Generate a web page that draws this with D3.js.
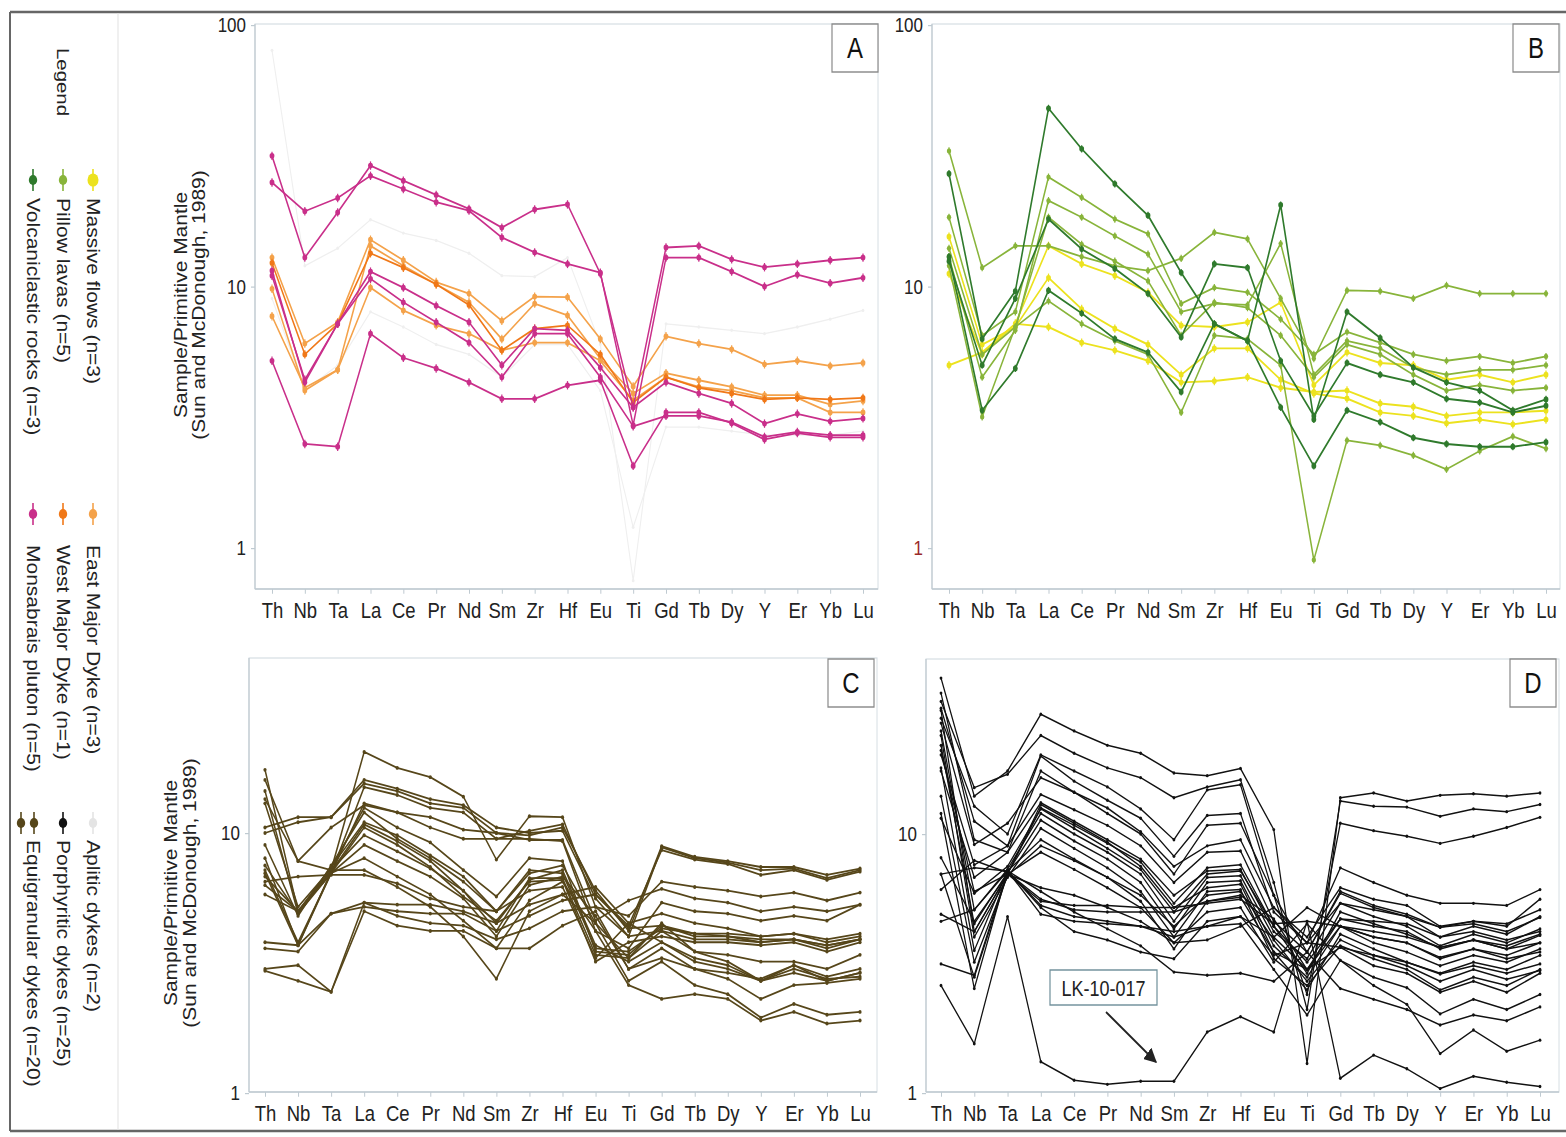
<!DOCTYPE html>
<html><head><meta charset="utf-8">
<script src="https://cdn.jsdelivr.net/npm/d3@7"></script>
<style>body{margin:0;background:#fff} svg{display:block;font-family:"Liberation Sans",Arial,sans-serif}</style>
</head><body>
<script>
// ---------------- DATA ----------------
const elements = ["Th","Nb","Ta","La","Ce","Pr","Nd","Sm","Zr","Hf","Eu","Ti","Gd","Tb","Dy","Y","Er","Yb","Lu"];
const ticksAB = [1, 10, 100];
const ticksCD = [1, 10];
const yTitle1 = "Sample/Primitive Mantle";
const yTitle2 = "(Sun and McDonough, 1989)";
const panelLetters = ["A", "B", "C", "D"];

// Panel A
const apliticDykes = [
  [80, 12, 14, 18, 16, 15, 13.4, 11, 10.9, 12.9, 6, 0.75, 7.2, 7.0, 6.8, 6.6, 7.0, 7.5, 8.1],
  [9, 4, 5, 8, 7, 6, 5.5, 4.5, 6, 6, 4, 1.2, 2.9, 2.9, 2.8, 2.7, 2.7, 2.7, 2.8]
];
const eastMajorDyke = [
  [12.9, 6.05, 7.3, 15.1, 12.6, 10.4, 9.4, 7.4, 9.15, 9.1, 6.3, 4.15, 6.45, 6.05, 5.75, 5.04, 5.2, 4.97, 5.1],
  [9.8, 4.0, 4.8, 9.9, 8.1, 7.1, 6.6, 5.7, 6.1, 6.1, 5.2, 3.67, 4.5, 4.13, 4.0, 3.75, 3.75, 3.3, 3.3],
  [7.7, 4.1, 4.8, 14.3, 12.0, 10.2, 8.7, 6.3, 8.6, 7.75, 5.3, 3.9, 4.66, 4.38, 4.13, 3.84, 3.84, 3.54, 3.65]
];
const westMajorDyke = [
  [12.3, 5.5, 7.2, 13.4, 11.8, 10.2, 8.5, 5.7, 6.9, 7.1, 5.5, 3.6, 4.5, 4.1, 3.9, 3.7, 3.75, 3.7, 3.75]
];
const monsabraisPluton = [
  [31.6, 12.9, 19.2, 29, 25.4, 22.4, 19.8, 16.8, 19.7, 20.6, 11.2, 3.45, 14.1, 14.3, 12.7, 11.85, 12.2, 12.6, 12.9],
  [25, 19.4, 21.8, 26.5, 23.6, 21, 19.5, 15.4, 13.5, 12.2, 11.3, 2.95, 12.9, 12.9, 11.4, 10, 11.1, 10.3, 10.8],
  [11, 4.4, 7.2, 11.4, 9.9, 8.45, 7.3, 5.0, 6.9, 6.8, 4.9, 3.45, 4.3, 3.9, 3.57, 2.99, 3.26, 3.05, 3.13],
  [11.5, 4.3, 7.2, 10.7, 8.7, 7.3, 6.1, 4.5, 6.6, 6.6, 4.5, 2.92, 3.2, 3.2, 3.03, 2.66, 2.78, 2.7, 2.7],
  [5.2, 2.5, 2.44, 6.6, 5.34, 4.86, 4.3, 3.72, 3.72, 4.19, 4.38, 2.06, 3.3, 3.3, 3.0, 2.6, 2.75, 2.65, 2.65]
];

// Panel B
const massiveFlows = [
  [5.0, 5.6, 7.2, 7.0, 6.1, 5.7, 5.2, 4.3, 4.35, 4.5, 4.1, 3.95, 4.0, 3.57, 3.47, 3.2, 3.3, 3.3, 3.35],
  [15.5, 6.0, 7.0, 10.8, 8.2, 6.9, 6.0, 4.6, 5.8, 5.8, 4.4, 3.9, 3.73, 3.3, 3.2, 3.0, 3.1, 2.97, 3.1],
  [11.2, 5.5, 7.2, 14.3, 12.2, 11.0, 9.5, 7.1, 7.0, 7.3, 8.7, 4.2, 5.6, 5.1, 5.0, 4.4, 4.6, 4.3, 4.6]
];
const pillowLavas = [
  [33, 11.8, 14.3, 14.3, 13, 12, 11.5, 12.8, 16.1, 15.2, 9.0, 5.3, 9.66, 9.6, 9.0, 10.1, 9.4, 9.4, 9.4],
  [18.4, 6.5, 8.0, 26.2, 21.9, 18.1, 15.9, 8.6, 9.9, 9.5, 7.5, 5.5, 6.7, 6.1, 5.5, 5.2, 5.4, 5.1, 5.4],
  [13.0, 4.5, 6.8, 21.3, 18.4, 15.6, 13.3, 8.0, 8.6, 8.5, 14.6, 4.6, 6.2, 5.8, 4.9, 4.6, 4.8, 4.8, 5.0],
  [12.0, 3.17, 7.0, 8.8, 7.2, 6.2, 5.5, 3.3, 6.5, 6.3, 5.0, 0.9, 2.58, 2.47, 2.26, 2.0, 2.35, 2.67, 2.4],
  [14.0, 5.5, 7.0, 18.4, 14.5, 12.5, 10.5, 6.5, 8.7, 8.3, 6.5, 4.5, 6.0, 5.5, 4.6, 4.0, 4.2, 4.0, 4.1]
];
const volcaniclasticRocks = [
  [27, 6.3, 9.6, 48, 33.6, 24.7, 18.7, 11.3, 7.2, 6.2, 20.5, 3.1, 8.0, 6.36, 4.9, 4.3, 4.0, 3.36, 3.7],
  [12.5, 5.0, 9.0, 18.1, 13.9, 11.7, 9.4, 6.4, 12.2, 11.8, 5.2, 3.2, 5.1, 4.6, 4.3, 3.72, 3.6, 3.3, 3.5],
  [13.0, 3.36, 4.86, 9.66, 7.9, 6.3, 5.6, 3.95, 7.2, 6.2, 3.45, 2.06, 3.36, 3.03, 2.64, 2.5, 2.44, 2.44, 2.54]
];

// Panel C
const equigranularDykes = [
  [10.5, 11.5, 11.5, 15.5, 14.5, 13, 12.5, 10, 9.8, 10.5, 6.0, 4.2, 8.9, 8.1, 7.8, 7.4, 7.4, 6.9, 7.3],
  [10, 11, 11.5, 16, 14.8, 13.5, 12.8, 10.5, 10, 10.2, 5.6, 4.0, 8.8, 8.0, 7.7, 7.2, 7.3, 6.7, 7.2],
  [17.5, 5.0, 7.0, 15.0, 14.0, 12.5, 12.0, 9.5, 10.2, 10.8, 5.8, 4.4, 8.6, 7.9, 7.6, 6.9, 7.2, 6.6, 7.1],
  [16, 7.8, 7.2, 20.5, 17.8, 16.4, 13.8, 7.9, 11.6, 11.5, 5.2, 4.8, 6.5, 6.2, 6.0, 5.7, 5.9, 5.5, 5.9],
  [14.5, 4.9, 7.0, 13.0, 12.0, 10.5, 9.5, 9.5, 9.5, 9.3, 4.2, 3.6, 5.4, 5.0, 4.9, 4.6, 4.8, 4.6, 5.3],
  [13, 5.2, 7.3, 12.5, 10.5, 9.2, 7.2, 5.7, 8.0, 7.8, 3.5, 3.4, 4.4, 4.0, 4.0, 3.8, 3.9, 3.7, 3.9],
  [8, 3.7, 7.1, 10.8, 9.3, 7.8, 6.0, 4.2, 6.7, 6.7, 3.4, 3.3, 4.2, 3.9, 3.9, 3.8, 3.9, 3.6, 3.9],
  [7.2, 3.8, 7.0, 10.5, 9.0, 7.4, 5.7, 4.6, 6.5, 6.6, 3.2, 3.8, 4.0, 3.8, 3.8, 3.7, 3.8, 3.5, 3.8],
  [9, 4.8, 7.5, 12.0, 9.5, 8.0, 6.5, 5.0, 7.2, 7.0, 3.6, 3.5, 4.3, 4.1, 4.1, 4.0, 4.1, 3.9, 4.1],
  [6.3, 5.0, 7.4, 11.0, 9.8, 8.2, 6.8, 5.0, 7.0, 7.5, 4.5, 3.3, 4.5, 3.5, 3.2, 2.7, 2.9, 2.7, 2.9],
  [7.5, 4.9, 7.2, 9.8, 8.5, 7.3, 6.0, 4.5, 6.6, 7.2, 3.7, 3.2, 3.8, 3.3, 3.1, 2.7, 3.0, 2.75, 2.8],
  [5.8, 5.0, 7.0, 9.0, 7.8, 6.8, 5.6, 4.0, 6.3, 6.8, 4.8, 3.0, 3.3, 3.0, 2.75, 2.3, 2.6, 2.65, 2.75],
  [6.8, 5.0, 7.2, 7.2, 6.2, 5.2, 4.0, 2.75, 5.0, 5.8, 4.5, 2.7, 3.2, 2.6, 2.4, 1.95, 2.2, 2.0, 2.05],
  [7.0, 3.7, 7.0, 8.0, 6.8, 5.8, 4.6, 3.6, 5.5, 6.5, 4.2, 2.6, 2.3, 2.4, 2.3, 1.9, 2.05, 1.85, 1.9],
  [3.8, 3.7, 4.9, 5.4, 5.3, 5.3, 5.0, 4.5, 5.3, 5.8, 6.2, 4.5, 4.9, 4.5, 4.3, 4.0, 4.1, 3.8, 4.0],
  [3.6, 3.5, 4.9, 5.2, 5.0, 4.9, 4.9, 4.2, 4.8, 5.5, 5.8, 4.3, 4.4, 4.1, 4.0, 3.9, 3.9, 3.7, 3.9],
  [3.0, 3.1, 2.45, 5.4, 4.8, 4.5, 4.4, 3.9, 4.3, 5.0, 5.2, 4.0, 4.2, 3.5, 3.4, 3.2, 3.2, 3.0, 3.4],
  [2.95, 2.7, 2.45, 5.0, 4.4, 4.2, 4.2, 3.6, 3.6, 4.4, 5.0, 3.0, 3.6, 3.0, 2.9, 2.75, 3.1, 2.8, 3.0],
  [13.5, 7.8, 10.5, 12.8, 12, 11.5, 10.3, 10.0, 9.4, 9.4, 4.6, 5.5, 6.1, 5.6, 5.4, 5.0, 5.2, 5.0, 5.3],
  [6.5, 6.8, 6.9, 6.9, 6.4, 5.6, 5.2, 5.0, 6.0, 6.2, 3.3, 4.5, 3.8, 3.2, 3.0, 2.7, 3.1, 2.7, 2.9]
];

// Panel D
const porphyriticDykes = [
  [40, 14, 17.5, 29, 25, 22, 20.5, 17.2, 16.8, 17.9, 10.4, 1.3, 13.8, 14.4, 13.4, 14.1, 14.3, 14.0, 14.4],
  [32.5, 15.1, 17, 24, 20.5, 18, 16.5, 13.8, 15.2, 16.2, 6.5, 2.1, 13.4, 12.8, 12.7, 11.7, 12.5, 12.2, 13.0],
  [28, 12.8, 10, 20.2, 17.5, 15.2, 12.5, 9.5, 14.8, 15.5, 5.8, 2.4, 11.0, 10.3, 9.8, 9.2, 9.8, 10.6, 11.6],
  [30.6, 11.2, 9, 20, 16, 13.5, 11.5, 8.2, 11.8, 12.0, 5.0, 3.8, 7.4, 6.5, 5.8, 5.4, 5.4, 5.3, 6.1],
  [26.8, 9.1, 11, 16.5, 14.5, 12.6, 10.2, 7.5, 9.0, 9.5, 5.2, 4.0, 6.2, 5.6, 5.3, 4.4, 4.6, 4.4, 5.6],
  [20.2, 7.6, 9, 14.2, 12.4, 10.8, 9.0, 6.5, 8.5, 8.6, 4.6, 3.5, 5.9, 5.2, 4.8, 4.0, 4.4, 4.1, 4.8],
  [17.5, 6.8, 8.5, 13.2, 11.2, 9.5, 8.0, 5.8, 7.2, 7.3, 4.2, 3.3, 5.4, 4.8, 4.4, 3.7, 4.1, 3.8, 4.3],
  [11.5, 5.9, 7.5, 12.5, 10.5, 8.8, 7.3, 5.0, 7.0, 7.2, 4.4, 3.2, 4.7, 4.4, 4.2, 3.6, 3.9, 3.7, 4.1],
  [25, 5.1, 7.3, 12, 10, 8.5, 7.0, 4.6, 6.8, 6.9, 4.0, 3.0, 4.4, 4.0, 3.8, 3.3, 3.6, 3.4, 3.8],
  [22, 4.5, 7.1, 11.3, 9.4, 8.0, 6.5, 4.3, 6.5, 6.6, 3.7, 2.8, 4.4, 3.8, 3.5, 3.1, 3.4, 3.2, 3.6],
  [30, 4.2, 7.0, 13.0, 11.0, 9.3, 7.5, 5.2, 6.2, 6.4, 3.5, 2.5, 4.1, 3.6, 3.2, 2.9, 3.2, 3.0, 3.4],
  [24, 4.0, 6.8, 10.5, 8.8, 7.4, 6.0, 4.0, 6.0, 6.1, 3.3, 2.6, 3.7, 3.3, 3.0, 2.5, 2.8, 2.6, 3.0],
  [18, 3.55, 7.2, 9.5, 8.0, 6.8, 5.5, 3.6, 5.5, 5.7, 3.5, 3.0, 3.65, 3.1, 2.9, 2.45, 2.7, 2.45, 2.9],
  [8.1, 4.6, 7.0, 8.5, 7.3, 6.2, 5.2, 3.8, 5.0, 5.2, 3.2, 4.5, 3.25, 2.8, 2.55, 2.02, 2.3, 2.1, 2.4],
  [7.0, 7.4, 7.2, 5.3, 4.8, 4.6, 4.4, 4.2, 4.4, 4.8, 3.4, 3.8, 5.4, 5.1, 4.8, 4.36, 4.6, 4.5, 5.1],
  [6.1, 7.9, 7.1, 5.6, 5.1, 5.0, 5.0, 5.0, 5.5, 5.8, 4.7, 3.0, 4.7, 4.6, 4.5, 4.0, 4.2, 3.9, 4.2],
  [4.9, 4.2, 7.0, 5.5, 5.3, 5.3, 5.2, 5.2, 5.4, 5.6, 4.5, 4.6, 4.4, 4.2, 4.0, 3.65, 3.9, 3.6, 3.8],
  [4.6, 5.1, 7.2, 5.2, 4.2, 3.9, 3.5, 3.3, 4.6, 4.8, 4.0, 5.2, 4.4, 4.0, 3.8, 3.34, 3.6, 3.3, 3.5],
  [7.0, 2.8, 7.0, 6.2, 5.8, 5.2, 4.6, 3.8, 3.9, 4.4, 5.2, 3.8, 3.65, 3.4, 3.2, 2.88, 3.1, 2.9, 3.15],
  [3.15, 2.85, 7.2, 6.0, 5.0, 4.3, 3.7, 2.93, 2.85, 2.9, 2.7, 3.5, 2.53, 2.3, 2.1, 1.83, 2.0, 1.9, 2.15],
  [2.6, 1.55, 4.8, 1.32, 1.12, 1.08, 1.11, 1.11, 1.72, 1.97, 1.72, 4.6, 1.14, 1.4, 1.24, 1.04, 1.16, 1.1, 1.06],
  [12, 2.53, 7.2, 4.9, 4.6, 4.5, 4.4, 4.0, 4.4, 4.5, 3.0, 2.0, 3.25, 2.6, 2.2, 1.42, 1.75, 1.45, 1.6],
  [35, 9.5, 8.5, 17.5, 14.5, 12.0, 10.0, 7.0, 10.8, 11.0, 5.8, 3.5, 6.0, 5.3, 4.9, 4.36, 4.5, 4.2, 4.76],
  [21, 6.0, 7.0, 12.6, 10.8, 9.2, 7.8, 5.4, 7.4, 7.6, 4.4, 2.9, 5.0, 4.5, 4.1, 3.65, 3.9, 3.6, 4.06],
  [14, 3.2, 6.9, 9.0, 7.9, 6.8, 5.8, 4.4, 5.8, 6.0, 3.9, 2.7, 3.9, 3.4, 3.1, 2.7, 3.0, 2.75, 2.97]
];
const annotationLabel = "LK-10-017";

const legendTitle = "Legend";
const legendLabels = [
  ["Massive flows (n=3)", "Pillow lavas (n=5)", "Volcaniclastic rocks (n=3)"],
  ["East Major Dyke (n=3)", "West Major Dyke (n=1)", "Monsabrais pluton (n=5)"],
  ["Aplitic dykes (n=2)", "Porphyritic dykes (n=25)", "Equigranular dykes (n=20)"]
];

// ---------------- STYLE ----------------
const C = {
  massive: "#ece21e", pillow: "#88b43a", volc: "#2f7a2c",
  east: "#f4a24a", west: "#f07818", mons: "#c92f8a",
  aplitic: "#efefef", porph: "#111111", equi: "#56461a"
};
const legendColors = [
  [C.massive, C.pillow, C.volc],
  [C.east, C.west, C.mons],
  ["#e4e4e4", C.porph, C.equi]
];

const SY = 1.2;             // vertical stretch of the reference figure
const fy = v => v / SY;      // final pixel -> inner coordinate
const W = 1566, H = 1137;

const svg = d3.select("body").append("svg").attr("width", W).attr("height", H);
svg.append("rect").attr("width", W).attr("height", H).attr("fill", "#fff");
const root = svg.append("g").attr("transform", `scale(1,${SY})`);

// outer frame
root.append("line").attr("x1", 10).attr("x2", W).attr("y1", fy(12)).attr("y2", fy(12)).attr("stroke", "#666").attr("stroke-width", 2);
root.append("line").attr("x1", 10).attr("x2", 10).attr("y1", fy(12)).attr("y2", fy(1131)).attr("stroke", "#666").attr("stroke-width", 2);
root.append("line").attr("x1", 10).attr("x2", W).attr("y1", fy(1131)).attr("y2", fy(1131)).attr("stroke", "#666").attr("stroke-width", 2);
root.append("line").attr("x1", 118).attr("x2", 118).attr("y1", fy(13)).attr("y2", fy(1130)).attr("stroke", "#e2e2e2").attr("stroke-width", 1);

// ---------------- PANELS ----------------
const panels = [
  { letter: panelLetters[0], left: 255, right: 878, top: 24, bottom: 589, xr: [272, 863], yv: [1, 100], ypx: [548, 25], ticks: ticksAB,
    title: { x: [181, 199], cy: 305 }, box: [832, 24],
    series: [
      { data: apliticDykes, color: C.aplitic, w: 1.1, r: 1.4, tick: 0 },
      { data: eastMajorDyke, color: C.east, w: 1.5, r: 2.4, tick: 3.5 },
      { data: westMajorDyke, color: C.west, w: 1.5, r: 2.4, tick: 3.5 },
      { data: monsabraisPluton, color: C.mons, w: 1.5, r: 2.4, tick: 3.5 }
    ] },
  { letter: panelLetters[1], left: 932, right: 1560, top: 24, bottom: 589, xr: [949, 1546], yv: [1, 100], ypx: [548, 25], ticks: ticksAB,
    title: null, box: [1513, 24], redOne: true,
    series: [
      { data: massiveFlows, color: C.massive, w: 1.6, r: 2.4, tick: 3.5 },
      { data: pillowLavas, color: C.pillow, w: 1.5, r: 2.2, tick: 3 },
      { data: volcaniclasticRocks, color: C.volc, w: 1.6, r: 2.4, tick: 3 }
    ] },
  { letter: panelLetters[2], left: 249, right: 877, top: 658, bottom: 1092, xr: [265, 860], yv: [1, 10], ypx: [1093, 833], ticks: ticksCD,
    title: { x: [171, 190], cy: 893 }, box: [828, 659],
    series: [
      { data: equigranularDykes, color: C.equi, w: 1.5, r: 1.6, tick: 0 }
    ] },
  { letter: panelLetters[3], left: 926, right: 1559, top: 659, bottom: 1092, xr: [941, 1540], yv: [1, 10], ypx: [1093, 834], ticks: ticksCD,
    title: null, box: [1510, 659],
    series: [
      { data: porphyriticDykes, color: C.porph, w: 1.25, r: 1.4, tick: 0 }
    ] }
];

panels.forEach(p => {
  const g = root.append("g");
  const x = d3.scalePoint().domain(elements).range(p.xr);
  const y = d3.scaleLog().domain(p.yv).range([fy(p.ypx[0]), fy(p.ypx[1])]);

  // frame
  g.append("rect").attr("x", p.left).attr("y", fy(p.top)).attr("width", p.right - p.left).attr("height", fy(p.bottom) - fy(p.top))
    .attr("fill", "none").attr("stroke", "#d6dee3").attr("stroke-width", 1);
  g.append("line").attr("x1", p.left).attr("x2", p.left).attr("y1", fy(p.top)).attr("y2", fy(p.bottom)).attr("stroke", "#bfcad1").attr("stroke-width", 1.2);
  g.append("line").attr("x1", p.left).attr("x2", p.right).attr("y1", fy(p.bottom)).attr("y2", fy(p.bottom)).attr("stroke", "#bfcad1").attr("stroke-width", 1.2);

  // x axis
  const xa = g.append("g").attr("transform", `translate(0,${fy(p.bottom)})`)
    .call(d3.axisBottom(x).tickSize(4).tickPadding(7));
  xa.select(".domain").remove();
  xa.selectAll(".tick line").attr("stroke", "#bfcad1");
  xa.selectAll(".tick text").attr("font-size", "18.5px").attr("fill", "#222").attr("font-family", '"Liberation Sans",Arial,sans-serif');

  // y axis
  const ya = g.append("g").attr("transform", `translate(${p.left},0)`)
    .call(d3.axisLeft(y).tickValues(p.ticks).tickFormat(d => String(d)).tickSize(4).tickPadding(5));
  ya.select(".domain").remove();
  ya.selectAll(".tick line").attr("stroke", "#bfcad1");
  ya.selectAll(".tick text").attr("font-size", "17px").attr("fill", "#222").attr("font-family", '"Liberation Sans",Arial,sans-serif');
  if (p.redOne) ya.selectAll(".tick text").filter(d => d === 1).attr("fill", "#9a2a2a");

  // y title
  if (p.title) {
    [yTitle1, yTitle2].forEach((t, i) => {
      g.append("text").attr("transform", `translate(${p.title.x[i]},${fy(p.title.cy)}) rotate(-90)`)
        .attr("text-anchor", "middle").attr("dy", "0.35em").attr("font-size", "17.5px").attr("fill", "#222").text(t);
    });
  }

  // series
  const line = d3.line().x((d, i) => x(elements[i])).y(d => y(d));
  p.series.forEach(s => {
    s.data.forEach(row => {
      const sg = g.append("g");
      sg.append("path").attr("d", line(row)).attr("fill", "none").attr("stroke", s.color)
        .attr("stroke-width", s.w).attr("stroke-linejoin", "round");
      if (s.tick > 0) {
        sg.selectAll("line.t").data(row).join("line").attr("class", "t")
          .attr("x1", (d, i) => x(elements[i])).attr("x2", (d, i) => x(elements[i]))
          .attr("y1", d => y(d) - s.tick).attr("y2", d => y(d) + s.tick)
          .attr("stroke", s.color).attr("stroke-width", 1.2);
      }
      sg.selectAll("circle").data(row).join("circle")
        .attr("cx", (d, i) => x(elements[i])).attr("cy", d => y(d)).attr("r", s.r).attr("fill", s.color);
    });
  });

  // panel letter box
  g.append("rect").attr("x", p.box[0]).attr("y", fy(p.box[1])).attr("width", 46).attr("height", fy(p.box[1] + 48) - fy(p.box[1]))
    .attr("fill", "#fff").attr("stroke", "#8a8a8a").attr("stroke-width", 1.2);
  g.append("text").attr("x", p.box[0] + 23).attr("y", fy(p.box[1] + 24)).attr("dy", "0.36em")
    .attr("text-anchor", "middle").attr("font-size", "24px").attr("fill", "#111").text(p.letter);
});

// annotation LK-10-017 (panel D)
const defs = svg.append("defs");
defs.append("marker").attr("id", "arr").attr("viewBox", "0 0 10 10").attr("refX", 9).attr("refY", 5)
  .attr("markerWidth", 7).attr("markerHeight", 7).attr("orient", "auto")
  .append("path").attr("d", "M0,0 L10,5 L0,10 z").attr("fill", "#222");
root.append("rect").attr("x", 1050).attr("y", fy(970)).attr("width", 107).attr("height", fy(1005) - fy(970))
  .attr("fill", "#fff").attr("stroke", "#6f8f9a").attr("stroke-width", 1.2);
root.append("text").attr("x", 1103.5).attr("y", fy(988)).attr("dy", "0.36em").attr("text-anchor", "middle")
  .attr("font-size", "18px").attr("fill", "#222").text(annotationLabel);
root.append("line").attr("x1", 1106).attr("y1", fy(1012)).attr("x2", 1156).attr("y2", fy(1062))
  .attr("stroke", "#222").attr("stroke-width", 1.8).attr("marker-end", "url(#arr)");

// ---------------- LEGEND (rotated) ----------------
const legCols = [93, 63, 33];
const legMarkY = [180, 514, 823];
const legTextY = [198, 545, 840];
root.append("text").attr("transform", `translate(63,${fy(48)}) rotate(90)`).attr("dy", "0.35em")
  .attr("font-size", "17px").attr("fill", "#222").text(legendTitle);
legendLabels.forEach((grp, gi) => {
  grp.forEach((lab, ci) => {
    const col = legendColors[gi][ci];
    const xs = (gi === 2 && ci === 2) ? [21, 34] : [legCols[ci]];
    xs.forEach(xx => {
      root.append("line").attr("x1", xx).attr("x2", xx).attr("y1", fy(legMarkY[gi] - 11)).attr("y2", fy(legMarkY[gi] + 11))
        .attr("stroke", col).attr("stroke-width", 1.6);
      root.append("circle").attr("cx", xx).attr("cy", fy(legMarkY[gi])).attr("r", (gi === 0 && ci === 0) ? 5.5 : 4.2).attr("fill", col);
    });
    root.append("text").attr("transform", `translate(${legCols[ci]},${fy(legTextY[gi])}) rotate(90)`).attr("dy", "0.35em")
      .attr("font-size", "17.5px").attr("fill", "#222").text(lab);
  });
});
</script>
</body></html>
